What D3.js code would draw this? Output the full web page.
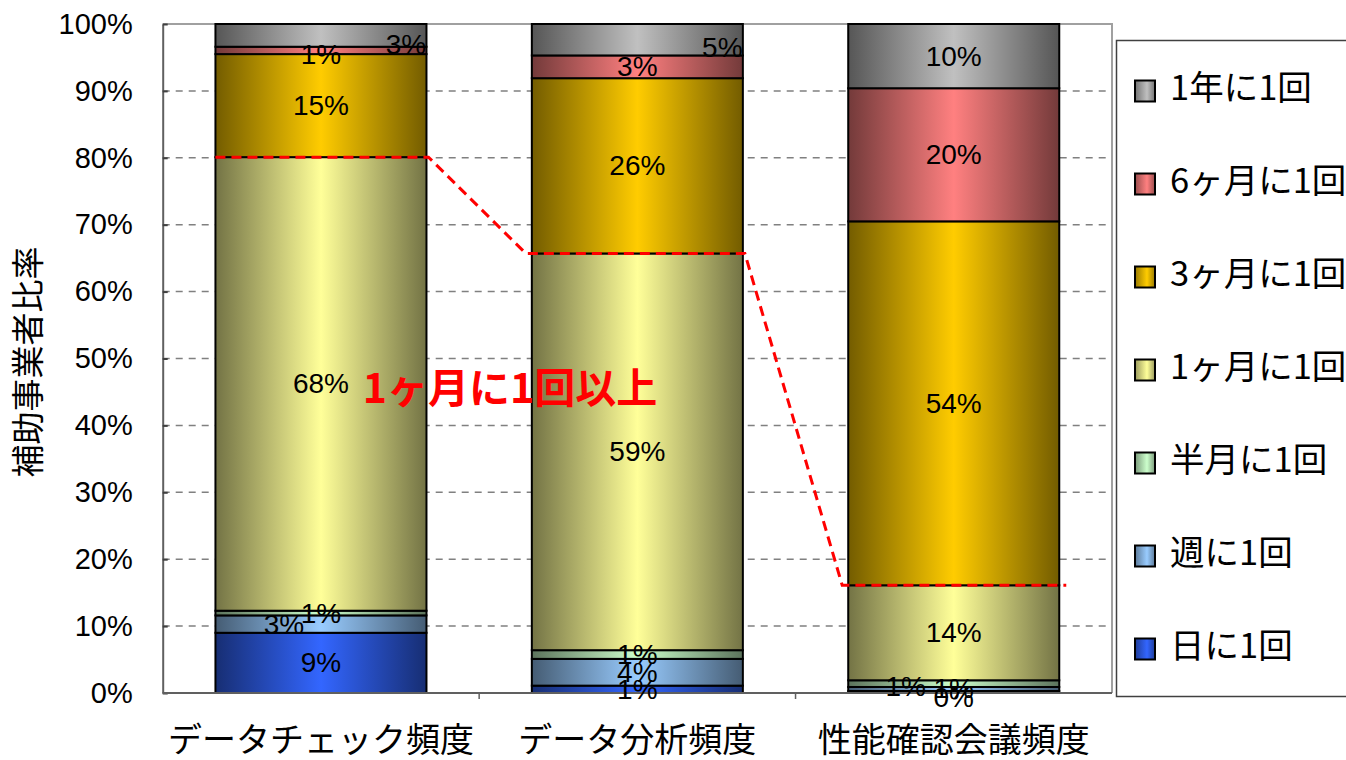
<!DOCTYPE html>
<html>
<head>
<meta charset="utf-8">
<script src="https://cdn.jsdelivr.net/npm/d3@7"></script>
<style>
  html, body { margin: 0; padding: 0; background: #fff; }
  svg { display: block; }
  .num { font-family: "Liberation Sans", Arial, sans-serif; }
  .jp { font-family: "Noto Sans CJK JP", "Noto Sans", sans-serif; }
</style>
</head>
<body>
<svg id="chart" width="1346" height="760"></svg>
<script>
// Categories along the x axis
const categories = ["データチェック頻度", "データ分析頻度", "性能確認会議頻度"];

// Frequency series, stacked from the bottom up
const seriesNames = ["日に1回", "週に1回", "半月に1回", "1ヶ月に1回", "3ヶ月に1回", "6ヶ月に1回", "1年に1回"];

// Share (%) of each frequency per category, in seriesNames order
const daily     = [9.0, 1.1, 0.3];
const weekly    = [2.6, 4.0, 0.6];
const halfMonth = [0.7, 1.3, 1.0];
const monthly   = [67.8, 59.3, 14.2];
const quarterly = [15.4, 26.2, 54.4];
const halfYear  = [1.1, 3.4, 19.9];
const yearly    = [3.4, 4.7, 9.6];

const yTicks = [0, 10, 20, 30, 40, 50, 60, 70, 80, 90, 100];

const seriesValues = [daily, weekly, halfMonth, monthly, quarterly, halfYear, yearly];

// Base fill per series (centre of the cylinder shading)
const seriesColors = ["#3366ff", "#99ccff", "#ccffcc", "#ffff99", "#ffcc00", "#ff8080", "#c0c0c0"];

// Build row table for d3.stack
const rows = categories.map((c, i) => {
  const r = { category: c };
  seriesNames.forEach((s, k) => { r[s] = seriesValues[k][i]; });
  return r;
});

const svg = d3.select("#chart");
const plot = { left: 162.7, right: 1112, top: 24, bottom: 693 };

const x = d3.scaleBand()
  .domain(categories)
  .range([plot.left, plot.right])
  .paddingInner(0.333)
  .paddingOuter(0.1667);

const y = d3.scaleLinear().domain([0, 100]).range([plot.bottom, plot.top]);

// Gradients: dark edges, bright centre
const defs = svg.append("defs");
seriesNames.forEach((s, k) => {
  const base = d3.rgb(seriesColors[k]);
  const dark = d3.rgb(base.r * 0.45, base.g * 0.45, base.b * 0.45);
  const g = defs.append("linearGradient")
    .attr("id", "grad" + k)
    .attr("x1", 0).attr("x2", 1).attr("y1", 0).attr("y2", 0);
  g.append("stop").attr("offset", "0%").attr("stop-color", dark);
  g.append("stop").attr("offset", "50%").attr("stop-color", base);
  g.append("stop").attr("offset", "100%").attr("stop-color", dark);

  const mid = d3.rgb(base.r * 0.6, base.g * 0.6, base.b * 0.6);
  const lg = defs.append("linearGradient")
    .attr("id", "lgrad" + k)
    .attr("x1", 0).attr("x2", 1).attr("y1", 0).attr("y2", 0);
  lg.append("stop").attr("offset", "0%").attr("stop-color", mid);
  lg.append("stop").attr("offset", "60%").attr("stop-color", base);
  lg.append("stop").attr("offset", "100%").attr("stop-color", mid);
});

// Gridlines
svg.append("g")
  .selectAll("line")
  .data(yTicks.filter(t => t > 0 && t < 100))
  .join("line")
  .attr("x1", plot.left).attr("x2", plot.right)
  .attr("y1", d => y(d)).attr("y2", d => y(d))
  .attr("stroke", "#808080")
  .attr("stroke-width", 1.5)
  .attr("stroke-dasharray", "7,6");

// Plot frame (top and right)
svg.append("path")
  .attr("d", `M${plot.left},${y(100)}H${plot.right}V${plot.bottom}`)
  .attr("fill", "none")
  .attr("stroke", "#a0a0a0")
  .attr("stroke-width", 2);

// Stacked bars
const stack = d3.stack().keys(seriesNames);
const stacked = stack(rows);

const layers = svg.append("g")
  .selectAll("g")
  .data(stacked)
  .join("g")
  .attr("fill", (d, k) => `url(#grad${k})`);

layers.selectAll("rect")
  .data(d => d)
  .join("rect")
  .attr("x", d => x(d.data.category))
  .attr("width", x.bandwidth())
  .attr("y", d => y(d[1]))
  .attr("height", d => y(d[0]) - y(d[1]))
  .attr("stroke", "#000")
  .attr("stroke-width", 2);

// Axes
const yAxis = d3.axisLeft(y).tickValues(yTicks).tickFormat(d => d + "%")
  .tickSizeInner(-5).tickSizeOuter(0).tickPadding(30);
const gy = svg.append("g").attr("transform", `translate(${plot.left},0)`).call(yAxis);
gy.select(".domain").attr("stroke", "#606060").attr("stroke-width", 2);
gy.selectAll(".tick line").attr("stroke", "#404040").attr("stroke-width", 2);
gy.selectAll("text").attr("class", "num").attr("font-size", 29).attr("fill", "#000");

// Bottom axis line and category separators
svg.append("line")
  .attr("x1", plot.left).attr("x2", plot.right)
  .attr("y1", plot.bottom).attr("y2", plot.bottom)
  .attr("stroke", "#606060").attr("stroke-width", 2);
const step = x.step();
svg.append("g").selectAll("line")
  .data(categories.slice(1))
  .join("line")
  .attr("x1", d => x(d) - step * x.paddingInner() / 2)
  .attr("x2", d => x(d) - step * x.paddingInner() / 2)
  .attr("y1", plot.bottom).attr("y2", plot.bottom + 6)
  .attr("stroke", "#606060").attr("stroke-width", 1.5);

// Category labels
svg.append("g").selectAll("text")
  .data(categories)
  .join("text")
  .attr("class", "jp")
  .attr("x", d => x(d) + x.bandwidth() / 2)
  .attr("y", 743)
  .attr("text-anchor", "middle")
  .attr("dominant-baseline", "middle")
  .attr("font-size", 34)
  .attr("fill", "#000")
  .text(d => d);

// Y axis title
svg.append("text")
  .attr("class", "jp")
  .attr("transform", `translate(31,362) rotate(-90)`)
  .attr("text-anchor", "middle")
  .attr("dominant-baseline", "middle")
  .attr("font-size", 33)
  .attr("fill", "#000")
  .text("補助事業者比率");

// Data labels; a few small segments have their labels moved aside
const labelNudge = {
  "週に1回|データチェック頻度": [-37, 0],
  "1年に1回|データチェック頻度": [85, 9],
  "6ヶ月に1回|データチェック頻度": [0, 4],
  "1年に1回|データ分析頻度": [85, 8],
  "半月に1回|性能確認会議頻度": [-48, 3],
  "日に1回|性能確認会議頻度": [0, 6]
};
const labels = [];
stacked.forEach(layer => {
  layer.forEach(d => {
    const key = layer.key + "|" + d.data.category;
    const n = labelNudge[key] || [0, 0];
    labels.push({
      x: x(d.data.category) + x.bandwidth() / 2 + n[0],
      y: (y(d[0]) + y(d[1])) / 2 + n[1],
      v: d[1] - d[0]
    });
  });
});
svg.append("g").selectAll("text")
  .data(labels)
  .join("text")
  .attr("class", "num")
  .attr("x", d => d.x)
  .attr("y", d => d.y)
  .attr("text-anchor", "middle")
  .attr("dominant-baseline", "central")
  .attr("font-size", 28)
  .attr("fill", "#000")
  .text(d => Math.round(d.v) + "%");

// Dashed line tracing the "monthly or more often" boundary
const monthlyLayer = stacked[seriesNames.indexOf("1ヶ月に1回")];
const pts = [];
monthlyLayer.forEach((d, i) => {
  const x0 = x(d.data.category);
  const lead = i === 0 ? 0 : -6;
  const tail = i === categories.length - 1 ? 7 : 2;
  pts.push([x0 + lead, y(d[1])]);
  pts.push([x0 + x.bandwidth() + tail, y(d[1])]);
});
svg.append("path")
  .attr("d", d3.line()(pts))
  .attr("fill", "none")
  .attr("stroke", "#ff0000")
  .attr("stroke-width", 3)
  .attr("stroke-dasharray", "10,6");

svg.append("text")
  .attr("class", "jp")
  .attr("x", 510)
  .attr("y", 392)
  .attr("text-anchor", "middle")
  .attr("dominant-baseline", "middle")
  .attr("font-size", 41)
  .attr("font-weight", "bold")
  .attr("fill", "#ff0000")
  .text("1ヶ月に1回以上");

// Legend
const legend = svg.append("g");
legend.append("rect")
  .attr("x", 1116.5).attr("y", 40.5)
  .attr("width", 240).attr("height", 656)
  .attr("fill", "#fff")
  .attr("stroke", "#404040").attr("stroke-width", 1.5);
const legendOrder = seriesNames.map((s, k) => ({ s, k })).reverse();
const ly = d3.scalePoint().domain(legendOrder.map(d => d.s)).range([91, 649]);
const items = legend.selectAll("g.item")
  .data(legendOrder)
  .join("g")
  .attr("class", "item")
  .attr("transform", d => `translate(1135,${ly(d.s)})`);
items.append("rect")
  .attr("x", 0).attr("y", -10.5)
  .attr("width", 20).attr("height", 21)
  .attr("fill", d => `url(#lgrad${d.k})`)
  .attr("stroke", "#000").attr("stroke-width", 2);
items.append("text")
  .attr("class", "jp")
  .attr("x", 35).attr("y", 0)
  .attr("dominant-baseline", "middle")
  .attr("font-size", 34.5)
  .attr("fill", "#000")
  .text(d => d.s);
</script>
</body>
</html>
